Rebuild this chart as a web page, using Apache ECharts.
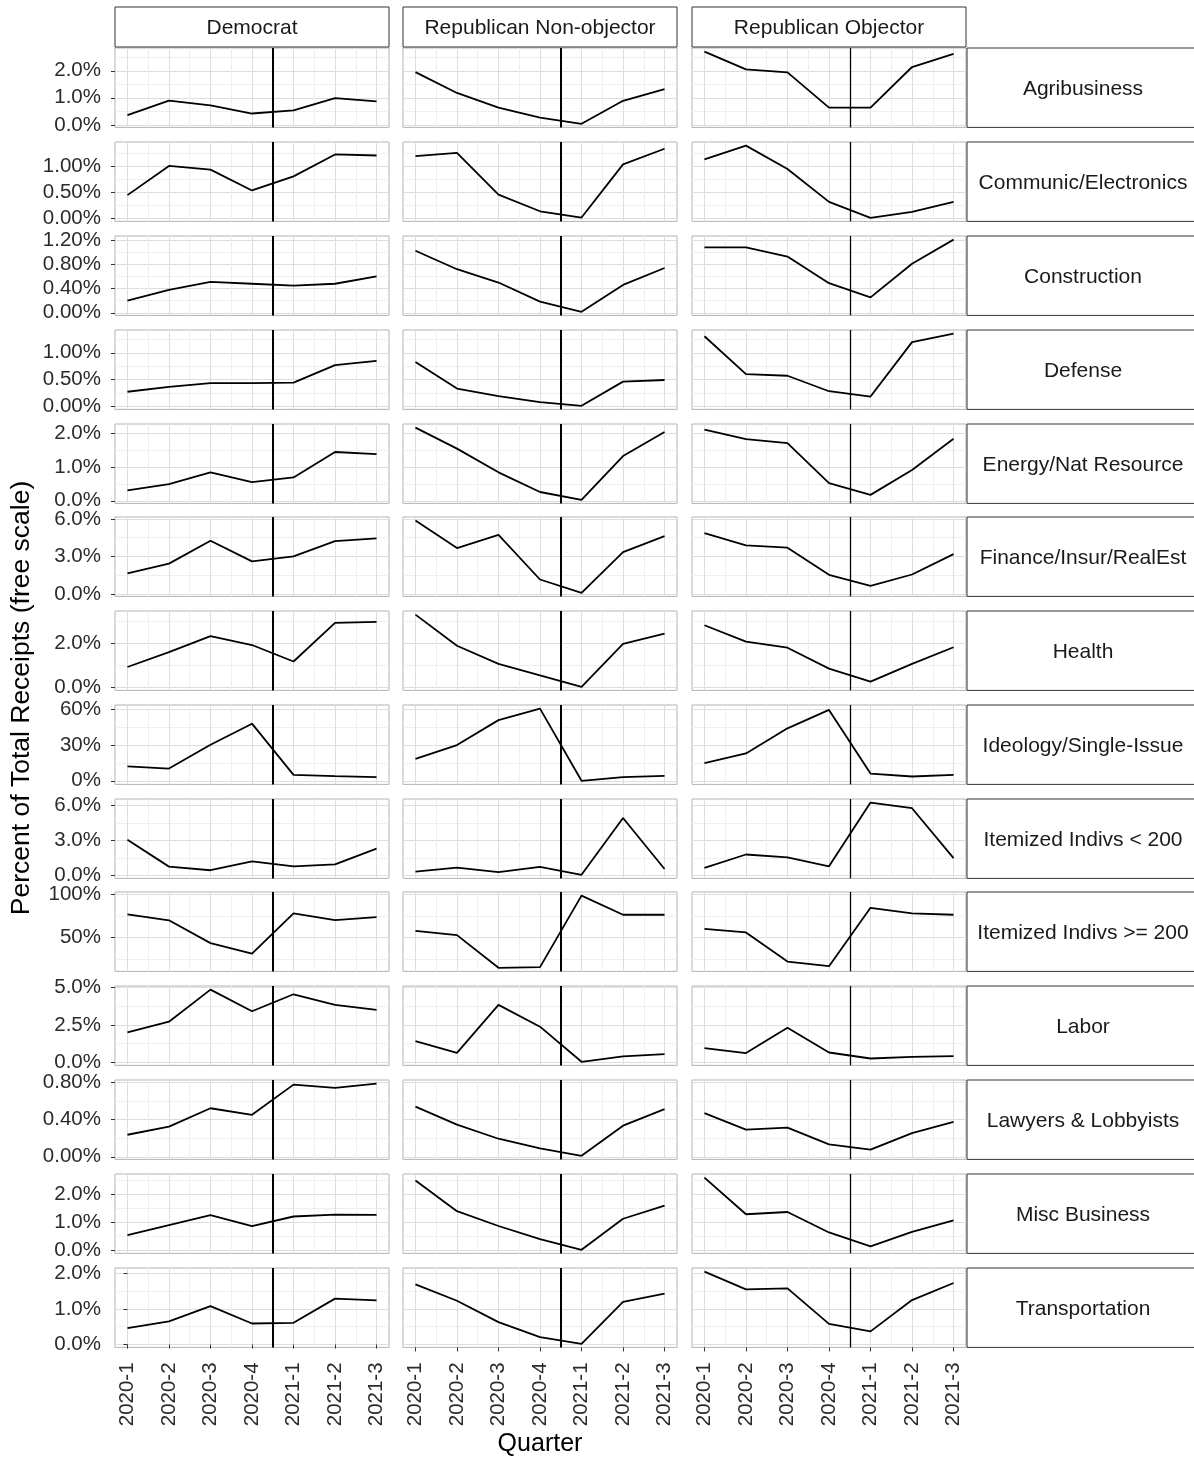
<!DOCTYPE html>
<html><head><meta charset="utf-8">
<script src="https://cdn.jsdelivr.net/npm/echarts@6/dist/echarts.min.js"></script>
<style>html,body{margin:0;padding:0;background:#fff}#c{width:1194px;height:1457px}</style>
</head><body><div id="c"></div>
<script>
const quarters = ['2020-1','2020-2','2020-3','2020-4','2021-1','2021-2','2021-3'];
const parties = ['Democrat','Republican Non-objector','Republican Objector'];
const industries = ['Agribusiness','Communic/Electronics','Construction','Defense','Energy/Nat Resource','Finance/Insur/RealEst','Health','Ideology/Single-Issue','Itemized Indivs < 200','Itemized Indivs >= 200','Labor','Lawyers & Lobbyists','Misc Business','Transportation'];

// percent of total receipts, one row per industry, one value per quarter
const democrat = [
  [0.36,0.90,0.72,0.42,0.54,0.99,0.87],
  [0.44,1.00,0.93,0.53,0.80,1.22,1.20],
  [0.20,0.38,0.51,0.48,0.45,0.48,0.60],
  [0.27,0.36,0.43,0.43,0.44,0.77,0.85],
  [0.31,0.49,0.84,0.55,0.69,1.44,1.38],
  [1.64,2.43,4.25,2.61,3.01,4.22,4.44],
  [0.93,1.60,2.32,1.92,1.18,2.92,2.96],
  [12.2,10.3,30.4,48.1,5.0,3.9,3.1],
  [3.07,0.76,0.45,1.21,0.79,0.96,2.31],
  [76.9,70.0,43.4,31.1,78.0,70.3,73.8],
  [2.00,2.71,4.85,3.41,4.54,3.83,3.50],
  [0.238,0.326,0.524,0.453,0.779,0.743,0.79],
  [0.53,0.89,1.25,0.86,1.20,1.27,1.26],
  [0.46,0.65,1.08,0.59,0.61,1.29,1.24]
];
const repNonObjector = [
  [1.95,1.18,0.64,0.27,0.04,0.89,1.32],
  [1.19,1.25,0.45,0.13,0.01,1.03,1.33],
  [1.025,0.72,0.50,0.185,0.016,0.46,0.74],
  [0.83,0.33,0.19,0.074,0.007,0.46,0.49],
  [2.16,1.54,0.84,0.26,0.03,1.32,2.03],
  [5.86,3.67,4.73,1.16,0.10,3.35,4.62],
  [3.29,1.89,1.07,0.55,0.04,1.97,2.43],
  [18.5,30.1,51.1,60.8,0.0,3.1,4.2],
  [0.34,0.68,0.28,0.73,0.06,4.93,0.56],
  [57.6,52.7,14.6,15.4,98.8,76.5,76.5],
  [1.41,0.64,3.83,2.38,0.04,0.40,0.55],
  [0.541,0.347,0.195,0.092,0.011,0.336,0.514],
  [2.49,1.39,0.86,0.39,0.01,1.12,1.59],
  [1.69,1.23,0.63,0.21,0.02,1.20,1.43]
];
const repObjector = [
  [2.71,2.05,1.94,0.64,0.64,2.14,2.63],
  [1.125,1.39,0.94,0.31,0.005,0.12,0.31],
  [1.08,1.08,0.93,0.49,0.255,0.81,1.21],
  [1.31,0.60,0.57,0.28,0.18,1.20,1.36],
  [2.10,1.82,1.70,0.52,0.175,0.91,1.83],
  [4.86,3.88,3.70,1.53,0.66,1.56,3.19],
  [2.81,2.07,1.80,0.86,0.27,1.07,1.82],
  [14.9,23.0,44.2,59.7,6.1,3.6,5.0],
  [0.65,1.80,1.55,0.79,6.25,5.77,1.49],
  [59.9,55.8,21.9,16.5,84.6,78.0,76.5],
  [0.95,0.62,2.31,0.66,0.26,0.37,0.42],
  [0.471,0.294,0.315,0.135,0.078,0.255,0.376],
  [2.59,1.28,1.36,0.63,0.13,0.65,1.06],
  [2.05,1.55,1.58,0.58,0.37,1.25,1.73]
];
const yMajorTicks = [[0,1,2],[0,0.5,1],[0,0.4,0.8,1.2],[0,0.5,1],[0,1,2],[0,3,6],[0,2],[0,30,60],[0,3,6],[50,100],[0,2.5,5],[0,0.4,0.8],[0,1,2],[0,1,2]];
const yMinorTicks = [[0.5,1.5,2.5],[0.25,0.75,1.25],[0.2,0.6,1.0],[0.25,0.75,1.25],[0.5,1.5,2.5],[1.5,4.5],[1,3],[15,45],[1.5,4.5],[25,75],[1.25,3.75],[0.2,0.6],[0.5,1.5,2.5],[0.5,1.5,2.5]];
const yLabelDecimals = [1,2,2,2,1,1,1,0,1,0,1,2,1,1];
const breakPosition = 3.5; // between 2020-4 and 2021-1

// ---- layout / style ----
const FONT = '"Liberation Sans", Arial, Helvetica, sans-serif';
const PANEL_LEFT = [115, 403, 692];
const PANEL_W = 274;
const TOP0 = 48.3, ROW_STEP = 93.8, PANEL_H = 79.4;
const MAJOR = '#dedede', MINOR = '#efefef';
const LABEL_COLOR = '#2b2b2b';
const partyData = [democrat, repNonObjector, repObjector];

const grids = [], xAxes = [], yAxes = [], series = [], graphics = [];
const xMajor = quarters.map((q, i) => i);
const xGridVals = [];
for (let i = 0; i <= 12; i++) xGridVals.push(i / 2);

industries.forEach((ind, r) => {
  const all = [].concat(...partyData.map(p => p[r]));
  const lo = Math.min(...all), hi = Math.max(...all), pad = (hi - lo) * 0.05;
  const ymin = lo - pad, ymax = hi + pad;
  const ygrid = yMajorTicks[r].concat(yMinorTicks[r]).filter(v => v >= ymin && v <= ymax).sort((a, b) => a - b);
  const yColors = yMajorTicks[r].includes(ygrid[0]) ? [MAJOR, MINOR] : [MINOR, MAJOR];
  const top = Math.round(TOP0 + r * ROW_STEP);
  parties.forEach((p, c) => {
    const g = grids.length;
    grids.push({left: PANEL_LEFT[c], top: top, width: PANEL_W, height: PANEL_H,
      show: true, borderColor: '#b3b3b3', borderWidth: 1, backgroundColor: '#fff'});
    const xa = xAxes.length;
    xAxes.push({gridIndex: g, type: 'value', min: -0.3, max: 6.3,
      axisLine: {show: false}, axisTick: {show: false, customValues: xGridVals},
      axisLabel: {show: false}, splitLine: {show: true, lineStyle: {color: [MAJOR, MINOR], width: 1}}});
    if (r === industries.length - 1) {
      xAxes.push({gridIndex: g, type: 'value', min: -0.3, max: 6.3, position: 'bottom',
        axisLine: {show: false},
        axisTick: {show: true, length: 4, customValues: xMajor, lineStyle: {color: '#333', width: 1}},
        axisLabel: {show: true, customValues: xMajor, rotate: 90, margin: 15,
          formatter: v => quarters[Math.round(v)], fontSize: 20.5, color: LABEL_COLOR, fontFamily: FONT},
        splitLine: {show: false}});
    }
    const ya = yAxes.length;
    yAxes.push({gridIndex: g, type: 'value', min: ymin, max: ymax,
      axisLine: {show: false}, axisTick: {show: false, customValues: ygrid},
      axisLabel: {show: false}, splitLine: {show: true, lineStyle: {color: yColors, width: 1}}});
    if (c === 0) {
      const dec = yLabelDecimals[r];
      yAxes.push({gridIndex: g, type: 'value', min: ymin, max: ymax, position: 'left',
        axisLine: {show: false},
        axisTick: {show: true, length: 4, customValues: yMajorTicks[r], lineStyle: {color: '#333', width: 1}},
        axisLabel: {show: true, customValues: yMajorTicks[r], margin: 14,
          formatter: v => v.toFixed(dec) + '%', fontSize: 20.5, color: LABEL_COLOR, fontFamily: FONT},
        splitLine: {show: false}});
    }
    series.push({type: 'line', xAxisIndex: xa, yAxisIndex: ya, symbol: 'none', silent: true,
      lineStyle: {color: '#000', width: 1.8},
      data: partyData[c][r].map((v, k) => [k, v]),
      markLine: {symbol: 'none', silent: true, label: {show: false},
        lineStyle: {color: '#000', width: c === 2 ? 1.3 : 2, type: 'solid'},
        data: [{xAxis: breakPosition}]}});
    if (r === 0) {
      graphics.push({type: 'rect', shape: {x: PANEL_LEFT[c], y: 7, width: PANEL_W, height: 40},
        style: {fill: '#fff', stroke: '#333', lineWidth: 1}});
      graphics.push({type: 'text', x: PANEL_LEFT[c] + PANEL_W / 2, y: 28.5,
        style: {text: p, font: '21px ' + FONT, fill: '#1a1a1a', align: 'center', verticalAlign: 'middle'}});
    }
  });
  graphics.push({type: 'rect', shape: {x: 967, y: top, width: 232, height: PANEL_H},
    style: {fill: '#fff', stroke: '#333', lineWidth: 1}});
  graphics.push({type: 'text', x: 1083, y: top + PANEL_H / 2 + 1.5,
    style: {text: ind, font: '21px ' + FONT, fill: '#1a1a1a', align: 'center', verticalAlign: 'middle'}});
});

graphics.push({type: 'text', x: 22, y: 698, rotation: Math.PI / 2,
  style: {text: 'Percent of Total Receipts (free scale)', font: '26.5px ' + FONT, fill: '#000', align: 'center', verticalAlign: 'middle'}});
graphics.push({type: 'text', x: 540, y: 1444,
  style: {text: 'Quarter', font: '25px ' + FONT, fill: '#000', align: 'center', verticalAlign: 'middle'}});

const chart = echarts.init(document.getElementById('c'), null, {renderer: 'canvas'});
chart.setOption({
  animation: false,
  backgroundColor: '#fff',
  grid: grids, xAxis: xAxes, yAxis: yAxes, series: series,
  graphic: graphics
});
</script></body></html>
